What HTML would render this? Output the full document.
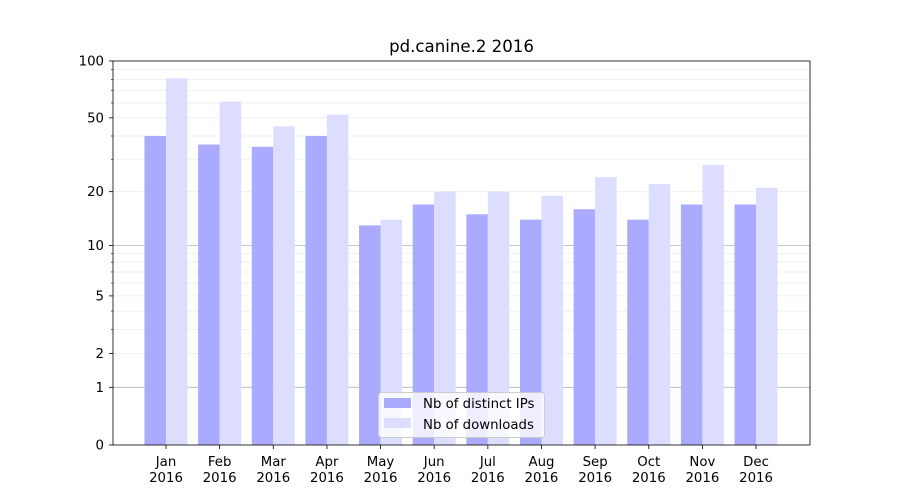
<!DOCTYPE html>
<html><head><meta charset="utf-8"><style>body{margin:0;background:#fff}svg{display:block}text{font-family:"DejaVu Sans","Liberation Sans",sans-serif;fill:#000}</style></head>
<body>
<svg id="c" width="900" height="500" xmlns="http://www.w3.org/2000/svg"></svg>
<script>
const s=document.getElementById('c');
let h='';
const Y=v=>445-191.6*Math.log10(1+v);
for(const v of [2,3,4,5,6,7,8,9,20,30,40,50,60,70,80,90]){const y=Y(v);h+=`<line x1="113" x2="810" y1="${y}" y2="${y}" stroke="#000" stroke-opacity="0.07" stroke-width="0.8"/>`;}
for(const v of [1,10]){const y=Y(v);h+=`<line x1="113" x2="810" y1="${y}" y2="${y}" stroke="#000" stroke-opacity="0.3" stroke-width="0.8"/>`;}
const ip=[40,36,35,40,13,17,15,14,16,14,17,17];
const dl=[81,61,45,52,14,20,20,19,24,22,28,21];
const m=['Jan','Feb','Mar','Apr','May','Jun','Jul','Aug','Sep','Oct','Nov','Dec'];
for(let i=0;i<12;i++){
 const c=166+i*53.64;
 let y=Y(ip[i]);h+=`<rect x="${c-21.5}" y="${y}" width="21.5" height="${445-y}" fill="#aaaaff"/>`;
 y=Y(dl[i]);h+=`<rect x="${c}" y="${y}" width="21.5" height="${445-y}" fill="#ddddff"/>`;
 h+=`<line x1="${c}" x2="${c}" y1="445" y2="449" stroke="#000" stroke-width="0.8"/>`;
 h+=`<text x="${c}" y="466" font-size="13.3" text-anchor="middle">${m[i]}</text><text x="${c}" y="482" font-size="13.3" text-anchor="middle">2016</text>`;
}
for(const v of [0,1,2,5,10,20,50,100]){const y=Y(v);h+=`<line x1="109" x2="113" y1="${y}" y2="${y}" stroke="#000" stroke-width="0.8"/><text x="104" y="${y+4.5}" font-size="13.3" text-anchor="end">${v}</text>`;}
for(const v of [3,4,6,7,8,9,30,40,60,70,80,90]){const y=Y(v);h+=`<line x1="111" x2="113" y1="${y}" y2="${y}" stroke="#000" stroke-width="0.6"/>`;}
h+=`<rect x="113" y="61" width="697" height="384" fill="none" stroke="#000" stroke-width="0.8"/>`;
h+=`<text x="461.5" y="52" font-size="16.6" text-anchor="middle">pd.canine.2 2016</text>`;
h+=`<rect x="378.5" y="392.5" width="166" height="45" rx="3" fill="#fff" fill-opacity="0.8" stroke="#ccc"/>`;
h+=`<rect x="384" y="398" width="27" height="10" fill="#aaaaff"/><text x="423" y="408" font-size="13.3">Nb of distinct IPs</text>`;
h+=`<rect x="384" y="418" width="27" height="10" fill="#ddddff"/><text x="423" y="429" font-size="13.3">Nb of downloads</text>`;
s.innerHTML=h;
</script>
</body></html>
